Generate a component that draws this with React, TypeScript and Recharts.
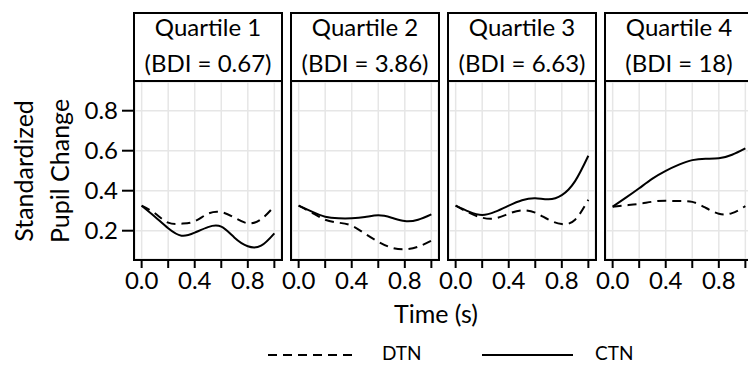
import React from "react";
import { CartesianGrid, Line, LineChart, XAxis, YAxis } from "recharts";

const TIME = [0, 0.1, 0.2, 0.3, 0.4, 0.5, 0.6, 0.7, 0.8, 0.9, 1.0];

const Q1_DTN = [0.325, 0.287, 0.24, 0.235, 0.247, 0.285, 0.293, 0.265, 0.237, 0.257, 0.323];
const Q1_CTN = [0.325, 0.27, 0.212, 0.175, 0.19, 0.218, 0.22, 0.165, 0.122, 0.125, 0.187];
const Q2_DTN = [0.325, 0.29, 0.255, 0.24, 0.225, 0.185, 0.145, 0.115, 0.107, 0.12, 0.15];
const Q2_CTN = [0.325, 0.295, 0.27, 0.262, 0.262, 0.268, 0.277, 0.265, 0.248, 0.255, 0.282];
const Q3_DTN = [0.325, 0.29, 0.265, 0.262, 0.285, 0.302, 0.29, 0.255, 0.233, 0.255, 0.355];
const Q3_CTN = [0.325, 0.295, 0.278, 0.295, 0.325, 0.352, 0.362, 0.357, 0.378, 0.448, 0.575];
const Q4_DTN = [0.32, 0.327, 0.334, 0.345, 0.35, 0.348, 0.344, 0.315, 0.285, 0.288, 0.323];
const Q4_CTN = [0.32, 0.365, 0.412, 0.46, 0.499, 0.53, 0.553, 0.56, 0.562, 0.58, 0.612];

const QUARTILES = ["Quartile 1", "Quartile 2", "Quartile 3", "Quartile 4"];
const BDI = ["(BDI = 0.67)", "(BDI = 3.86)", "(BDI = 6.63)", "(BDI = 18)"];
const DTN = [Q1_DTN, Q2_DTN, Q3_DTN, Q4_DTN];
const CTN = [Q1_CTN, Q2_CTN, Q3_CTN, Q4_CTN];

const X_TICKS = [0, 0.2, 0.4, 0.6, 0.8, 1.0];
const X_LABELED = [0, 0.4, 0.8];
const Y_TICKS = [0.2, 0.4, 0.6, 0.8];

const FONT = "Lato, 'DejaVu Sans', sans-serif";
const PANEL_LEFT = [133, 290, 447, 604];
const PANEL_W = 150;
const PLOT_TOP = 82;
const PLOT_H = 177;
const PAD = 20;
const DASH = "9 6";

function Panel({ i }: { i: number }) {
  const data = TIME.map((t, k) => ({ t, dtn: DTN[i][k], ctn: CTN[i][k] }));
  const yw = i === 0 ? 60 : 0;
  const padL = i === 0 ? 0 : PAD;
  const innerLeft = PANEL_LEFT[i] + 2;
  const tick = { fill: "#000", fontSize: 24, fontFamily: FONT };
  return (
    <div style={{ position: "absolute", left: innerLeft - yw - padL, top: PLOT_TOP }}>
      <LineChart
        width={yw + padL + 146 + PAD}
        height={PLOT_H + 40}
        data={data}
        margin={{ top: 0, right: PAD, bottom: 0, left: padL }}
      >
        <CartesianGrid stroke="#e6e6e6" strokeWidth={1.5} />
        <XAxis
          dataKey="t"
          type="number"
          domain={[-0.05, 1.05]}
          ticks={X_TICKS}
          interval={0}
          allowDataOverflow
          height={40}
          axisLine={false}
          tickLine={{ stroke: "#000", strokeWidth: 2 }}
          tickSize={9}
          tickMargin={4}
          tick={tick}
          tickFormatter={(v: number) => (X_LABELED.includes(v) ? v.toFixed(1) : "")}
        />
        <YAxis
          type="number"
          domain={[0.0585, 0.9435]}
          ticks={Y_TICKS}
          interval={0}
          allowDataOverflow
          hide={i !== 0}
          width={yw}
          axisLine={false}
          tickLine={{ stroke: "#000", strokeWidth: 2 }}
          tickSize={13}
          tickMargin={4}
          tick={tick}
          tickFormatter={(v: number) => v.toFixed(1)}
        />
        <Line dataKey="dtn" type="natural" stroke="#000" strokeWidth={2} strokeDasharray={DASH} dot={false} isAnimationActive={false} />
        <Line dataKey="ctn" type="natural" stroke="#000" strokeWidth={2} dot={false} isAnimationActive={false} />
      </LineChart>
    </div>
  );
}

export default function App() {
  return (
    <div style={{ position: "absolute", left: 0, top: 0, width: 748, height: 365, background: "#fff", overflow: "hidden" }}>
      {QUARTILES.map((_, i) => (
        <Panel key={i} i={i} />
      ))}
      <svg width={748} height={365} style={{ position: "absolute", left: 0, top: 0, pointerEvents: "none" }} fontFamily={FONT}>
        {PANEL_LEFT.map((L, i) => (
          <g key={i}>
            <rect x={L + 1} y={13} width={PANEL_W - 2} height={68} fill="none" stroke="#000" strokeWidth={2} />
            <rect x={L + 1} y={81} width={PANEL_W - 2} height={179} fill="none" stroke="#000" strokeWidth={2} />
            <text x={L + PANEL_W / 2} y={36} textAnchor="middle" fontSize={24} fill="#000">
              {QUARTILES[i]}
            </text>
            <text x={L + PANEL_W / 2} y={72} textAnchor="middle" fontSize={24} fill="#000">
              {BDI[i]}
            </text>
          </g>
        ))}
        <text transform="translate(33,171) rotate(-90)" textAnchor="middle" fontSize={25} fill="#000">
          Standardized
        </text>
        <text transform="translate(69,171) rotate(-90)" textAnchor="middle" fontSize={25} fill="#000">
          Pupil Change
        </text>
        <text x={436} y={323} textAnchor="middle" fontSize={25} fill="#000">
          Time (s)
        </text>
        <line x1={268} x2={358} y1={355} y2={355} stroke="#000" strokeWidth={2} strokeDasharray={DASH} />
        <text x={382} y={360} fontSize={19} fill="#000">
          DTN
        </text>
        <line x1={482} x2={573} y1={355} y2={355} stroke="#000" strokeWidth={2} />
        <text x={595} y={360} fontSize={19} fill="#000">
          CTN
        </text>
      </svg>
    </div>
  );
}
